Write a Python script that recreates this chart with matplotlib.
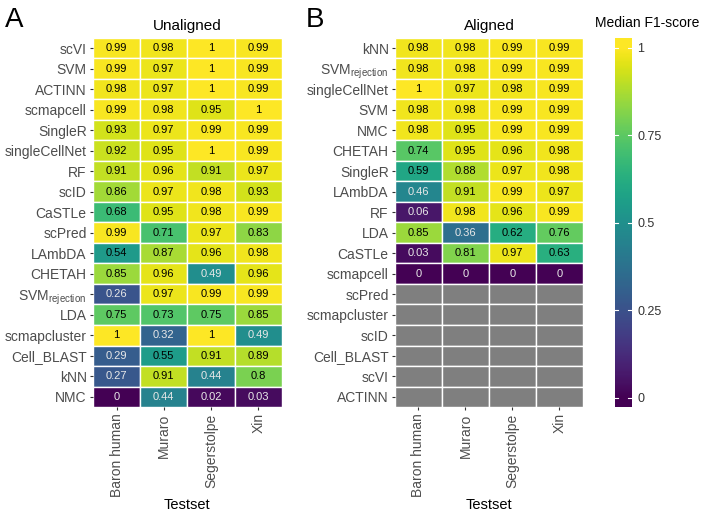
import numpy as np
import matplotlib
matplotlib.use("Agg")
import matplotlib.pyplot as plt

plt.rcParams['font.family'] = ['Liberation Sans', 'DejaVu Sans']
plt.rcParams['mathtext.fontset'] = 'custom'
plt.rcParams['mathtext.rm'] = 'Liberation Sans'
plt.rcParams['mathtext.it'] = 'Liberation Sans'

testsets = ["Baron human", "Muraro", "Segerstolpe", "Xin"]

rows_unaligned = ["scVI", "SVM", "ACTINN", "scmapcell", "SingleR", "singleCellNet", "RF",
                  "scID", "CaSTLe", "scPred", "LAmbDA", "CHETAH", "SVM_rejection", "LDA",
                  "scmapcluster", "Cell_BLAST", "kNN", "NMC"]
vals_unaligned = [
    [0.99, 0.98, 1, 0.99],
    [0.99, 0.97, 1, 0.99],
    [0.98, 0.97, 1, 0.99],
    [0.99, 0.98, 0.95, 1],
    [0.93, 0.97, 0.99, 0.99],
    [0.92, 0.95, 1, 0.99],
    [0.91, 0.96, 0.91, 0.97],
    [0.86, 0.97, 0.98, 0.93],
    [0.68, 0.95, 0.98, 0.99],
    [0.99, 0.71, 0.97, 0.83],
    [0.54, 0.87, 0.96, 0.98],
    [0.85, 0.96, 0.49, 0.96],
    [0.26, 0.97, 0.99, 0.99],
    [0.75, 0.73, 0.75, 0.85],
    [1, 0.32, 1, 0.49],
    [0.29, 0.55, 0.91, 0.89],
    [0.27, 0.91, 0.44, 0.8],
    [0, 0.44, 0.02, 0.03],
]

rows_aligned = ["kNN", "SVM_rejection", "singleCellNet", "SVM", "NMC", "CHETAH", "SingleR",
                "LAmbDA", "RF", "LDA", "CaSTLe", "scmapcell", "scPred", "scmapcluster",
                "scID", "Cell_BLAST", "scVI", "ACTINN"]
nan = np.nan
vals_aligned = [
    [0.98, 0.98, 0.99, 0.99],
    [0.98, 0.98, 0.99, 0.99],
    [1, 0.97, 0.98, 0.99],
    [0.98, 0.98, 0.99, 0.99],
    [0.98, 0.95, 0.99, 0.99],
    [0.74, 0.95, 0.96, 0.98],
    [0.59, 0.88, 0.97, 0.98],
    [0.46, 0.91, 0.99, 0.97],
    [0.06, 0.98, 0.96, 0.99],
    [0.85, 0.36, 0.62, 0.76],
    [0.03, 0.81, 0.97, 0.63],
    [0, 0, 0, 0],
    [nan, nan, nan, nan],
    [nan, nan, nan, nan],
    [nan, nan, nan, nan],
    [nan, nan, nan, nan],
    [nan, nan, nan, nan],
    [nan, nan, nan, nan],
]

cbar_ticks = [0, 0.25, 0.5, 0.75, 1]
cbar_ticklabels = ["0", "0.25", "0.5", "0.75", "1"]

cmap = matplotlib.colormaps['viridis']
na_color = "#7f7f7f"
tick_color = "#4d4d4d"


def fmt(v):
    s = f"{v:.2f}".rstrip('0').rstrip('.')
    return s if s else "0"


def label(name):
    if name == "SVM_rejection":
        return r"SVM$_{\mathrm{rejection}}$"
    return name


def draw(ax, rows, vals, title):
    arr = np.array(vals, dtype=float)
    n = len(rows)
    for i in range(n):
        for j in range(len(testsets)):
            v = arr[i, j]
            color = na_color if np.isnan(v) else cmap(v)
            ax.add_patch(plt.Rectangle((j - 0.5, i - 0.5), 1, 1, facecolor=color,
                                       edgecolor='white', linewidth=1.0))
            if not np.isnan(v):
                tc = 'black' if v >= 0.5 else '#e8e8e8'
                ax.text(j, i, fmt(v), ha='center', va='center', fontsize=8, color=tc)
    ax.set_xlim(-0.5, len(testsets) - 0.5)
    ax.set_ylim(n - 0.5, -0.5)
    ax.set_yticks(range(n))
    ax.set_yticklabels([label(r) for r in rows], fontsize=10, color=tick_color)
    ax.set_xticks(range(len(testsets)))
    ax.set_xticklabels(testsets, rotation=90, fontsize=10, color=tick_color)
    ax.tick_params(length=2.5, color='#333333', width=0.8, pad=2)
    for s in ax.spines.values():
        s.set_visible(False)
    ax.set_title(title, fontsize=11, pad=6)
    ax.set_xlabel("Testset", fontsize=10.5, labelpad=0.5)


fig = plt.figure(figsize=(7.2, 5.12), dpi=100)
axA = fig.add_axes([0.129, 0.205, 0.2625, 0.721])
axB = fig.add_axes([0.5486, 0.205, 0.261, 0.721])
draw(axA, rows_unaligned, vals_unaligned, "Unaligned")
draw(axB, rows_aligned, vals_aligned, "Aligned")

fig.text(0.007, 0.96, "A", fontsize=20, va='center', ha='left')
fig.text(0.424, 0.96, "B", fontsize=20, va='center', ha='left')

# colorbar
cax = fig.add_axes([0.854, 0.205, 0.0236, 0.721])
lo, hi = -0.026, 1.028
grad = np.linspace(0, 1, 300).reshape(-1, 1)
cax.imshow(grad, aspect='auto', cmap=cmap, origin='lower', extent=[0, 1, 0, 1],
           vmin=0, vmax=1)
cax.set_ylim(lo, hi)
cax.set_xlim(0, 1)
cax.add_patch(plt.Rectangle((0, lo), 1, -lo, facecolor=cmap(0.0), edgecolor='none'))
cax.add_patch(plt.Rectangle((0, 1), 1, hi - 1, facecolor=cmap(1.0), edgecolor='none'))
for t in cbar_ticks:
    cax.plot([0, 0.2], [t, t], color='white', lw=0.8)
    cax.plot([0.8, 1], [t, t], color='white', lw=0.8)
cax.set_xticks([])
cax.yaxis.tick_right()
cax.set_yticks(cbar_ticks)
cax.set_yticklabels(cbar_ticklabels, fontsize=9, color='#333333')
cax.tick_params(axis='y', length=0, pad=4)
for s in cax.spines.values():
    s.set_visible(False)
fig.text(0.826, 0.955, "Median F1-score", fontsize=10, va='center', ha='left')

fig.savefig("out.png", dpi=100)
